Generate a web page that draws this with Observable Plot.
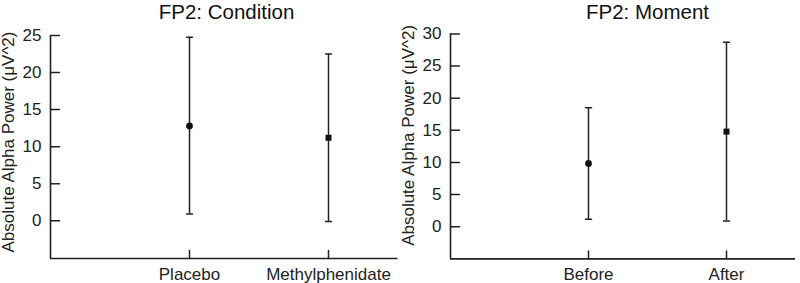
<!DOCTYPE html>
<html>
<head>
<meta charset="utf-8">
<script src="https://cdn.jsdelivr.net/npm/d3@7"></script>
<script src="https://cdn.jsdelivr.net/npm/@observablehq/plot@0.6"></script>
<style>
  body { margin: 0; background: #fff; }
  #root { position: relative; width: 800px; height: 283px; overflow: hidden; font-family: "Liberation Sans", Arial, sans-serif; color: #222; }
  .panel { position: absolute; top: 20px; width: 400px; }
  .title { position: absolute; top: 1.5px; font-size: 20.5px; line-height: 20.5px; white-space: nowrap; transform: translateX(-50%); color: #111; }
</style>
</head>
<body>
<div id="root"></div>
<script>
// ---- data ----
const condTitle = "FP2: Condition";
const condCats = ["Placebo", "Methylphenidate"];
const condMean = [12.8, 11.2];
const condLow = [0.9, -0.1];
const condHigh = [24.75, 22.5];
const condTicks = [0, 5, 10, 15, 20, 25];

const momentTitle = "FP2: Moment";
const momentCats = ["Before", "After"];
const momentMean = [9.85, 14.8];
const momentLow = [1.15, 0.9];
const momentHigh = [18.5, 28.7];
const momentTicks = [0, 5, 10, 15, 20, 25, 30];

const yLabel = "Absolute Alpha Power (μV^2)";
const markerSymbols = ["circle", "square"];

// ---- drawing ----
const ink = "#222";
const lineShape = { draw(context, l) { context.moveTo(0, 0); context.lineTo(0, -l); } };

function panel({cats, mean, low, high, ticks, yDomain, xDomain, marginTop, marginBottom, marginRight, labelDy}) {
  const data = cats.map((c, i) => ({pos: i + 1, cat: c, mean: mean[i], low: low[i], high: high[i]}));
  return Plot.plot({
    width: 400,
    height: 263,
    marginLeft: 50,
    marginRight,
    marginTop,
    marginBottom,
    x: {domain: xDomain, axis: null},
    y: {domain: yDomain, axis: null},
    symbol: {domain: cats, range: markerSymbols},
    style: {fontFamily: '"Liberation Sans", Arial, sans-serif', fontSize: "17px", color: ink, background: "transparent", overflow: "visible"},
    marks: [
      // axis lines
      Plot.ruleX([xDomain[0]], {stroke: ink, strokeWidth: 1.6}),
      Plot.ruleY([yDomain[0]], {stroke: ink, strokeWidth: 1.6}),
      // y ticks (inward) and labels
      Plot.vector(ticks, {y: d => d, frameAnchor: "left", rotate: 90, length: 9, anchor: "start", shape: lineShape, stroke: ink, strokeWidth: 1.5}),
      Plot.axisY(ticks, {tickSize: 0, tickPadding: 9, fontSize: 17, label: null, fill: ink}),
      // x ticks (inward) and labels
      Plot.vector(data, {x: "pos", frameAnchor: "bottom", rotate: 0, length: 8, anchor: "start", shape: lineShape, stroke: ink, strokeWidth: 1.5}),
      Plot.axisX(data.map(d => d.pos), {tickSize: 0, tickPadding: 9, fontSize: 17, label: null, fill: ink, tickFormat: p => cats[p - 1]}),
      // y label
      Plot.text([yLabel], {text: d => d, frameAnchor: "left", textAnchor: "middle", lineAnchor: "middle", rotate: -90, dx: -42, dy: labelDy, fontSize: 17, fill: ink}),
      // error bars
      Plot.ruleX(data, {x: "pos", y1: "low", y2: "high", stroke: ink, strokeWidth: 1.5}),
      Plot.vector(data, {x: "pos", y: "high", rotate: 90, length: 6, anchor: "middle", shape: lineShape, stroke: ink, strokeWidth: 1.5}),
      Plot.vector(data, {x: "pos", y: "low", rotate: 90, length: 6, anchor: "middle", shape: lineShape, stroke: ink, strokeWidth: 1.5}),
      // means
      Plot.dot(data, {x: "pos", y: "mean", symbol: "cat", r: 3.4, fill: "#111", stroke: "none"})
    ]
  });
}

const root = document.getElementById("root");

function addPanel(left, titleText, titleCenter, chart) {
  const p = document.createElement("div");
  p.className = "panel";
  p.style.left = left + "px";
  p.appendChild(chart);
  root.appendChild(p);
  const t = document.createElement("div");
  t.className = "title";
  t.style.left = titleCenter + "px";
  t.textContent = titleText;
  root.appendChild(t);
}

addPanel(0, condTitle, 226.5, panel({
  cats: condCats, mean: condMean, low: condLow, high: condHigh, ticks: condTicks,
  yDomain: [-5.1, 25], xDomain: [0, 2.5], marginTop: 15, marginBottom: 25, marginRight: 2.5, labelDy: -5
}));

addPanel(400, momentTitle, 647.5, panel({
  cats: momentCats, mean: momentMean, low: momentLow, high: momentHigh, ticks: momentTicks,
  yDomain: [-5, 30], xDomain: [0, 2.5], marginTop: 13.4, marginBottom: 24.6, marginRight: 5, labelDy: -11
}));
</script>
</body>
</html>
